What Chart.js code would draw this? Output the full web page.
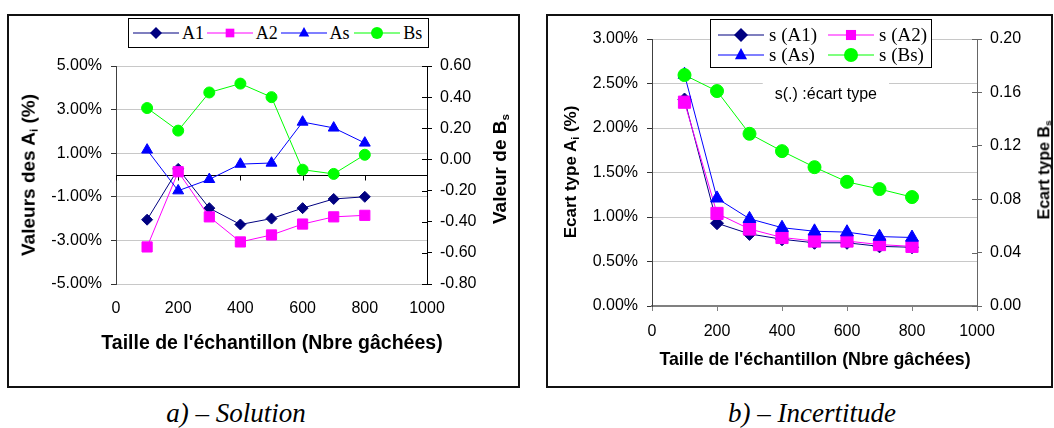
<!DOCTYPE html>
<html><head><meta charset="utf-8">
<script src="https://cdn.jsdelivr.net/npm/chart.js@4.4.1/dist/chart.umd.min.js"></script>
<style>
html,body{margin:0;padding:0;background:#fff}
body{width:1054px;height:428px;position:relative;overflow:hidden;font-family:"Liberation Sans",Arial,sans-serif}
.frame{position:absolute;border:2px solid #111;box-sizing:border-box;background:#fff}
.frame canvas{position:absolute;left:0;top:0}
.ytitle{position:absolute;font-weight:bold;white-space:nowrap;transform:translate(-50%,-50%) rotate(-90deg);color:#000;line-height:1}
.ytitle sub{font-size:62%;vertical-align:-0.25em}
.xtitle{position:absolute;font-weight:bold;white-space:nowrap;transform:translate(-50%,-50%);color:#000;line-height:1}
.legend{position:absolute;border:1.5px solid #000;box-sizing:border-box;background:#fff;font-family:"Liberation Serif","Times New Roman",serif;color:#000}
.legend .it{display:flex;align-items:center;white-space:nowrap}
.legend svg{flex:none}
.caption{position:absolute;font-family:"Liberation Serif","Times New Roman",serif;font-style:italic;font-size:27px;line-height:27px;white-space:nowrap;transform:translateX(-50%)}
</style>
</head><body>

<div class="frame" style="left:7px;top:14px;width:513px;height:374px"><canvas id="c1" width="509" height="370"></canvas></div>
<div class="frame" style="left:546px;top:14px;width:507px;height:374px"><canvas id="c2" width="503" height="370"></canvas></div>

<div class="ytitle" style="left:29px;top:175px;font-size:19px">Valeurs des A<sub>i</sub> (%)</div>
<div class="ytitle" style="left:500px;top:169px;font-size:19px">Valeur de B<sub>s</sub></div>
<div class="ytitle" style="left:571px;top:172px;font-size:17px">Ecart type A<sub>i</sub> (%)</div>
<div class="ytitle" style="left:1045px;top:170px;font-size:16px">Ecart type B<sub>s</sub></div>
<div class="xtitle" id="xt1" style="left:272px;top:343px;font-size:19.5px"></div>
<div class="xtitle" id="xt2" style="left:815px;top:360px;font-size:17.8px"></div>

<div class="legend" id="lg1" style="left:128px;top:18px;width:301px;height:30px;font-size:18px;display:flex;align-items:center;padding-left:4px"></div>
<div class="legend" id="lg2" style="left:710px;top:19px;width:222px;height:49px;font-size:19px;display:grid;grid-template-columns:110px 110px;grid-auto-rows:20px;padding:5px 0 0 7px"></div>

<div class="caption" style="left:236px;top:400px">a) – Solution</div>
<div class="caption" style="left:812px;top:400px">b) – Incertitude</div>

<script>
// ---------- DATA ----------
const sampleSizes = [100, 200, 300, 400, 500, 600, 700, 800];
const xTickValues = [0, 200, 400, 600, 800, 1000];

// a) Solution (A in %, Bs unitless)
const solA1 = [-2.05, 0.28, -1.52, -2.27, -2.00, -1.52, -1.10, -1.00];
const solA2 = [-3.30, 0.15, -1.92, -3.07, -2.75, -2.25, -1.92, -1.85];
const solAs = [1.15, -0.72, -0.20, 0.50, 0.55, 2.43, 2.16, 1.47];
const solBs = [0.33, 0.185, 0.43, 0.487, 0.40, -0.066, -0.093, 0.03];
const solLeftTicks = [-5, -3, -1, 1, 3, 5];
const solRightTicks = [-0.8, -0.6, -0.4, -0.2, 0, 0.2, 0.4, 0.6];
const solLabels = ['A1', 'A2', 'As', 'Bs'];

// b) Incertitude (standard deviations)
const incA1 = [2.32, 0.93, 0.81, 0.75, 0.71, 0.71, 0.67, 0.66];
const incA2 = [2.29, 1.04, 0.865, 0.77, 0.73, 0.73, 0.69, 0.67];
const incAs = [2.60, 1.21, 0.98, 0.88, 0.84, 0.83, 0.78, 0.77];
const incBs = [0.173, 0.161, 0.129, 0.116, 0.104, 0.093, 0.0876, 0.0816];
const incLeftTicks = [0, 0.5, 1, 1.5, 2, 2.5, 3];
const incRightTicks = [0, 0.04, 0.08, 0.12, 0.16, 0.2];
const incLabels = ['s (A1)', 's (A2)', 's (As)', 's (Bs)'];

const xTitle = "Taille de l'échantillon (Nbre gâchées)";
const noteText = 's(.) :écart type';

// ---------- STYLE ----------
const COLORS = {A1: '#000080', A2: '#FF00FF', As: '#0000FF', Bs: '#00FF00'};
const STYLES = {A1: 'rectRot', A2: 'rect', As: 'triangle', Bs: 'circle'};

Chart.defaults.font.family = '"Liberation Sans", Arial, sans-serif';
Chart.defaults.font.size = 16;
Chart.defaults.color = '#000';

document.getElementById('xt1').textContent = xTitle;
document.getElementById('xt2').textContent = xTitle;

const pts = vals => sampleSizes.map((x, i) => ({x: x, y: vals[i]}));
const setTicks = arr => (s => { s.ticks = arr.map(v => ({value: v})); });

function ds(key, label, vals, axis, radii, order) {
  return {
    label: label, data: pts(vals), yAxisID: axis,
    borderColor: COLORS[key], backgroundColor: COLORS[key],
    pointBackgroundColor: COLORS[key], pointBorderColor: COLORS[key],
    pointStyle: STYLES[key], pointRadius: radii[key], pointBorderWidth: 1,
    borderWidth: 1, tension: 0, order: order
  };
}

const extras = {
  id: 'extras',
  beforeDatasetsDraw(chart, args, o) {
    const ctx = chart.ctx, ca = chart.chartArea;
    const x = chart.scales.x, y = chart.scales.y, y2 = chart.scales.y2;
    ctx.save();
    if (o.zeroLine) {
      const zy = Math.round(y.getPixelForValue(0)) + 0.5;
      ctx.strokeStyle = '#000'; ctx.lineWidth = 1;
      ctx.beginPath();
      ctx.moveTo(ca.left, zy); ctx.lineTo(ca.right, zy);
      x.ticks.forEach(t => {
        const px = Math.round(x.getPixelForValue(t.value)) + 0.5;
        ctx.moveTo(px, zy); ctx.lineTo(px, zy + 5);
      });
      ctx.stroke();
    }
    // inner half of the cross tick marks on secondary axis
    ctx.strokeStyle = o.y2TickColor; ctx.lineWidth = 1;
    ctx.beginPath();
    y2.ticks.forEach(t => {
      const py = Math.round(y2.getPixelForValue(t.value)) + 0.5;
      ctx.moveTo(ca.right - 5, py); ctx.lineTo(ca.right, py);
    });
    ctx.stroke();
    if (o.note) {
      const nx = x.getPixelForValue(o.note.x), ny = y.getPixelForValue(o.note.y);
      ctx.font = '16px "Liberation Sans", Arial, sans-serif';
      const w = ctx.measureText(o.note.text).width;
      ctx.fillStyle = '#fff';
      ctx.fillRect(nx - w / 2 - 12, ny - 15, w + 24, 30);
      ctx.fillStyle = '#000';
      ctx.textAlign = 'center'; ctx.textBaseline = 'middle';
      ctx.fillText(o.note.text, nx, ny);
    }
    ctx.restore();
  }
};

function makeChart(id, datasets, cfg) {
  return new Chart(document.getElementById(id), {
    type: 'line',
    data: {datasets: datasets},
    plugins: [extras],
    options: {
      responsive: false, animation: false, devicePixelRatio: 1,
      layout: {padding: {top: cfg.top, left: 0, right: 0, bottom: 0}},
      plugins: {legend: {display: false}, tooltip: {enabled: false}, extras: cfg.extras},
      scales: {
        x: {
          type: 'linear', min: 0, max: 1000,
          afterBuildTicks: setTicks(xTickValues),
          afterFit: s => { s.height = cfg.xH; },
          grid: cfg.xGrid,
          border: cfg.xBorder,
          ticks: {padding: cfg.xPad, maxRotation: 0, callback: v => String(v)},
          title: {display: false}
        },
        y: {
          position: 'left', min: cfg.yMin, max: cfg.yMax,
          afterBuildTicks: setTicks(cfg.yTicks),
          afterFit: s => { s.width = cfg.yW; },
          grid: {color: '#c8c8c8', tickColor: '#333', tickLength: 5, lineWidth: 1},
          border: {color: '#404040', width: 1},
          ticks: {padding: 9, callback: v => v.toFixed(2) + '%'}
        },
        y2: {
          position: 'right', min: cfg.y2Min, max: cfg.y2Max,
          afterBuildTicks: setTicks(cfg.y2Ticks),
          afterFit: s => { s.width = cfg.y2W; },
          grid: {drawOnChartArea: false, tickColor: cfg.extras.y2TickColor, tickLength: 5},
          border: {color: cfg.extras.y2TickColor, width: 1},
          ticks: {padding: 8, callback: v => v.toFixed(2)}
        }
      }
    }
  });
}

const r1 = {A1: 5.5, A2: 7.2, As: 6.3, Bs: 5.5};
makeChart('c1', [
  ds('A1', solLabels[0], solA1, 'y', r1, 4),
  ds('A2', solLabels[1], solA2, 'y', r1, 3),
  ds('As', solLabels[2], solAs, 'y', r1, 2),
  ds('Bs', solLabels[3], solBs, 'y2', r1, 1)
], {
  top: 50, xH: 102, yW: 107, y2W: 91,
  xPad: 15,
  xGrid: {display: false, drawTicks: false, tickLength: 0},
  xBorder: {display: false},
  yMin: -5, yMax: 5, yTicks: solLeftTicks,
  y2Min: -0.8, y2Max: 0.6, y2Ticks: solRightTicks,
  extras: {zeroLine: true, y2TickColor: '#000'}
});

const r2 = {A1: 6.5, A2: 8.6, As: 7.4, Bs: 6.5};
makeChart('c2', [
  ds('A1', incLabels[0], incA1, 'y', r2, 4),
  ds('A2', incLabels[1], incA2, 'y', r2, 3),
  ds('As', incLabels[2], incAs, 'y', r2, 2),
  ds('Bs', incLabels[3], incBs, 'y2', r2, 1)
], {
  top: 23, xH: 80, yW: 104, y2W: 74,
  xPad: 11,
  xGrid: {display: true, drawOnChartArea: false, drawTicks: true, tickLength: 5, tickColor: '#808080', color: '#808080'},
  xBorder: {display: true, color: '#808080', width: 2},
  yMin: 0, yMax: 3, yTicks: incLeftTicks,
  y2Min: 0, y2Max: 0.2, y2Ticks: incRightTicks,
  extras: {zeroLine: false, y2TickColor: '#666', note: {text: noteText, x: 535, y: 2.38}}
});

// ---------- HTML legends ----------
function icon(key, r) {
  const c = COLORS[key], cx = 23, cy = 8;
  let s;
  if (key === 'A1') s = `<polygon points="${cx},${cy - r} ${cx + r},${cy} ${cx},${cy + r} ${cx - r},${cy}" fill="${c}"/>`;
  else if (key === 'A2') { const h = r * 0.72; s = `<rect x="${cx - h}" y="${cy - h}" width="${2 * h}" height="${2 * h}" fill="${c}"/>`; }
  else if (key === 'As') s = `<polygon points="${cx},${cy - r} ${cx + r * 0.87},${cy + r * 0.6} ${cx - r * 0.87},${cy + r * 0.6}" fill="${c}"/>`;
  else s = `<circle cx="${cx}" cy="${cy}" r="${r}" fill="${c}"/>`;
  return `<svg width="46" height="16" viewBox="0 0 46 16"><line x1="0" y1="8" x2="46" y2="8" stroke="${c}" stroke-width="1.2"/>${s}</svg>`;
}
const keys = ['A1', 'A2', 'As', 'Bs'];
document.getElementById('lg1').innerHTML = keys.map((k, i) =>
  `<div class="it" style="width:75px">${icon(k, 6)}<span style="margin-left:3px">${solLabels[i]}</span></div>`).join('');
document.getElementById('lg2').innerHTML = keys.map((k, i) =>
  `<div class="it">${icon(k, 7)}<span style="margin-left:5px">${incLabels[i]}</span></div>`).join('');
</script>
</body></html>
